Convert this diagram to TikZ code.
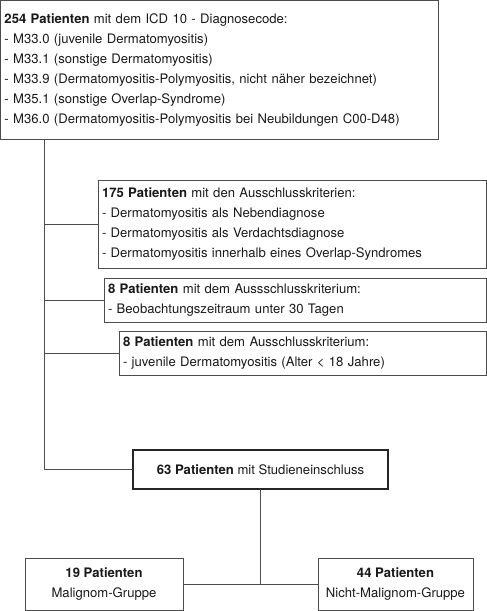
\documentclass[tikz,border=0pt]{standalone}
\usepackage{fontspec}
\setmainfont{TeX Gyre Heros}
\begin{document}
\begin{tikzpicture}[x=1pt,y=-1pt,
  box/.style={draw=black!70, line width=0.9pt, inner sep=0pt, outer sep=0pt, text=black!90},
  lbox/.style={box, anchor=north west, align=left, inner xsep=4pt},
  cbox/.style={box, anchor=north west, align=center},
  conn/.style={draw=black!70, line width=0.9pt}]
\useasboundingbox (0,0) rectangle (487,611);
\fontsize{13.1}{20}\selectfont
\node[lbox, minimum width=438pt, minimum height=139pt, text width=430pt] (top) at (0.5,0.5)
 {\textbf{254 Patienten} mit dem ICD 10 - Diagnosecode:\\
  - M33.0 (juvenile Dermatomyositis)\\
  - M33.1 (sonstige Dermatomyositis)\\
  - M33.9 (Dermatomyositis-Polymyositis, nicht näher bezeichnet)\\
  - M35.1 (sonstige Overlap-Syndrome)\\
  - M36.0 (Dermatomyositis-Polymyositis bei Neubildungen C00-D48)};
\node[lbox, minimum width=388pt, minimum height=88pt, text width=380pt] (exa) at (98,180)
 {\textbf{175 Patienten} mit den Ausschlusskriterien:\\
  - Dermatomyositis als Nebendiagnose\\
  - Dermatomyositis als Verdachtsdiagnose\\
  - Dermatomyositis innerhalb eines Overlap-Syndromes};
\node[lbox, minimum width=382pt, minimum height=44pt, text width=374pt] (exb) at (104,278)
 {\textbf{8 Patienten} mit dem Aussschlusskriterium:\\
  - Beobachtungszeitraum unter 30 Tagen};
\node[lbox, minimum width=367pt, minimum height=44pt, text width=359pt] (exc) at (119,331)
 {\textbf{8 Patienten} mit dem Ausschlusskriterium:\\
  - juvenile Dermatomyositis (Alter < 18 Jahre)};
\node[cbox, line width=1.4pt, draw=black!85, minimum width=255pt, minimum height=39pt] (incl) at (133,450)
 {\textbf{63 Patienten} mit Studieneinschluss};
\node[cbox, minimum width=158pt, minimum height=52pt] (ga) at (25,558)
 {\textbf{19 Patienten}\\ Malignom-Gruppe};
\node[cbox, minimum width=155pt, minimum height=52pt] (gb) at (318,558)
 {\textbf{44 Patienten}\\ Nicht-Malignom-Gruppe};
\coordinate (spine) at (44,139);
\path[conn] (top.south -| spine) |- (incl.west);
\path[conn] (spine |- exa.west) -- (exa.west);
\path[conn] (spine |- exb.west) -- (exb.west);
\path[conn] (spine |- exc.west) -- (exc.west);
\path[conn] (ga.east) -- (gb.west);
\path[conn] (incl.south) -- (incl.south |- ga.east);
\end{tikzpicture}
\end{document}
